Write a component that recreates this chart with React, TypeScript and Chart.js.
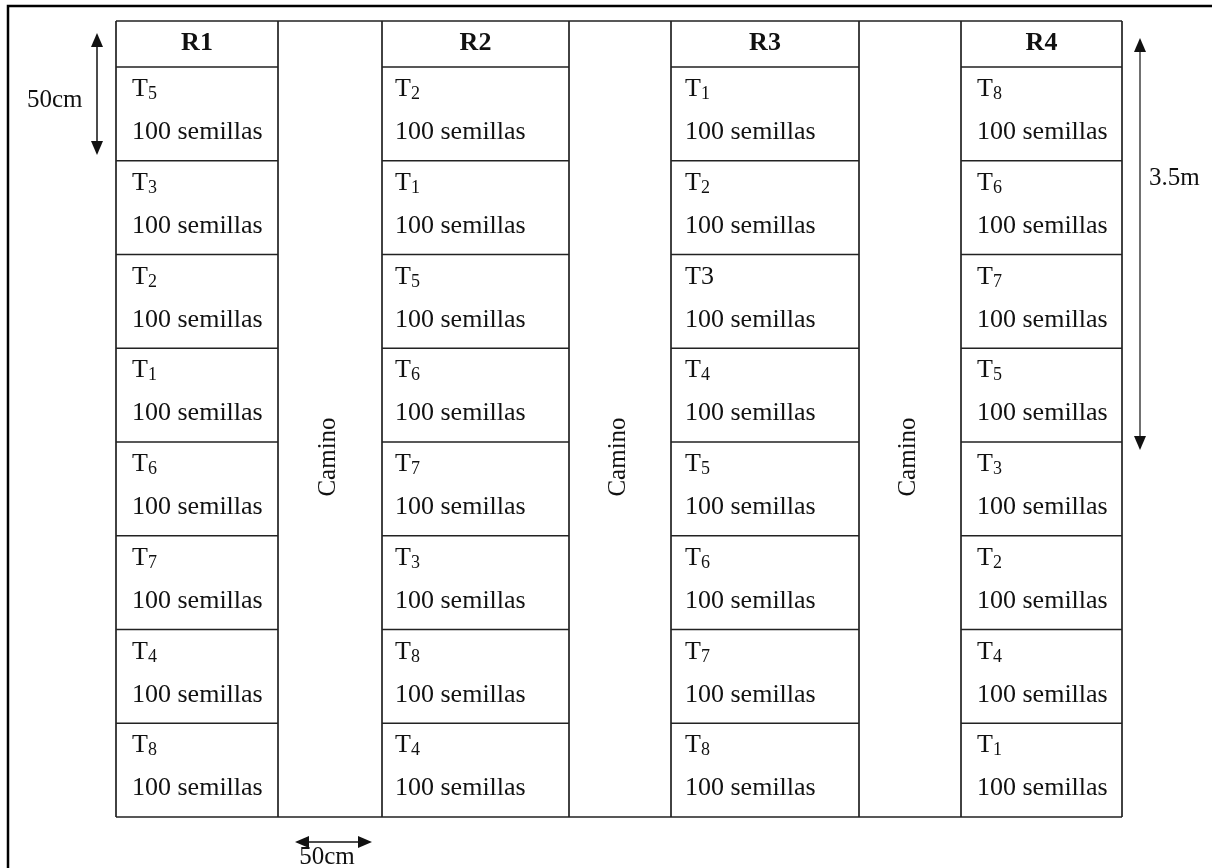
import React, { useEffect, useRef } from "react";
import { Chart, registerables } from "chart.js";

Chart.register(...registerables);

// ---- data ----
const blocks = ["R1", "R2", "R3", "R4"];
const r1Treatments = ["T_5", "T_3", "T_2", "T_1", "T_6", "T_7", "T_4", "T_8"];
const r2Treatments = ["T_2", "T_1", "T_5", "T_6", "T_7", "T_3", "T_8", "T_4"];
const r3Treatments = ["T_1", "T_2", "T3", "T_4", "T_5", "T_6", "T_7", "T_8"];
const r4Treatments = ["T_8", "T_6", "T_7", "T_5", "T_3", "T_2", "T_4", "T_1"];
const seedsLabel = "100 semillas";
const pathLabel = "Camino";
const rowDimLabel = "50cm";
const blockDimLabel = "3.5m";
const pathDimLabel = "50cm";

// ---- layout (scale units) ----
const blockEdges = [
  [116, 278],
  [382, 569],
  [671, 859],
  [961, 1122],
];
const textInset = [16, 13, 14, 16];
const headerTop = 21;
const rowsTop = 67;
const rowsBottom = 817;

const SERIF = '"Liberation Serif", "Times New Roman", serif';

function drawArrow(ctx: CanvasRenderingContext2D, x1: number, y1: number, x2: number, y2: number, lw: number) {
  const ang = Math.atan2(y2 - y1, x2 - x1);
  const hl = 14;
  const hw = 6;
  ctx.save();
  ctx.strokeStyle = "#111";
  ctx.fillStyle = "#111";
  ctx.lineWidth = lw;
  ctx.beginPath();
  ctx.moveTo(x1 + Math.cos(ang) * 4, y1 + Math.sin(ang) * 4);
  ctx.lineTo(x2 - Math.cos(ang) * 4, y2 - Math.sin(ang) * 4);
  ctx.stroke();
  const head = (tx: number, ty: number, a: number) => {
    ctx.beginPath();
    ctx.moveTo(tx, ty);
    ctx.lineTo(tx - Math.cos(a) * hl - Math.sin(a) * hw, ty - Math.sin(a) * hl + Math.cos(a) * hw);
    ctx.lineTo(tx - Math.cos(a) * hl + Math.sin(a) * hw, ty - Math.sin(a) * hl - Math.cos(a) * hw);
    ctx.closePath();
    ctx.fill();
  };
  head(x2, y2, ang);
  head(x1, y1, ang + Math.PI);
  ctx.restore();
}

const layoutPlugin = {
  id: "fieldLayout",
  afterDraw(chart: any) {
    const ctx: CanvasRenderingContext2D = chart.ctx;
    const xs = chart.scales.x;
    const ys = chart.scales.y;
    const X = (v: number) => xs.getPixelForValue(v);
    const Y = (v: number) => ys.getPixelForValue(v);
    const all = [r1Treatments, r2Treatments, r3Treatments, r4Treatments];
    const nRows = r1Treatments.length;
    const rowH = (rowsBottom - rowsTop) / nRows;

    ctx.save();
    // outer frame
    ctx.strokeStyle = "#000";
    ctx.lineWidth = 2.5;
    ctx.beginPath();
    ctx.moveTo(X(8), Y(880));
    ctx.lineTo(X(8), Y(6));
    ctx.lineTo(X(1220), Y(6));
    ctx.stroke();

    // grid lines of blocks
    ctx.strokeStyle = "#222";
    ctx.lineWidth = 1.7;
    const leftAll = blockEdges[0][0];
    const rightAll = blockEdges[blockEdges.length - 1][1];
    ctx.beginPath();
    ctx.moveTo(X(leftAll), Y(headerTop));
    ctx.lineTo(X(rightAll), Y(headerTop));
    ctx.moveTo(X(leftAll), Y(rowsBottom));
    ctx.lineTo(X(rightAll), Y(rowsBottom));
    blockEdges.forEach(([l, r]) => {
      ctx.moveTo(X(l), Y(headerTop));
      ctx.lineTo(X(l), Y(rowsBottom));
      ctx.moveTo(X(r), Y(headerTop));
      ctx.lineTo(X(r), Y(rowsBottom));
      for (let i = 0; i < nRows; i++) {
        const yy = rowsTop + rowH * i;
        ctx.moveTo(X(l), Y(yy));
        ctx.lineTo(X(r), Y(yy));
      }
    });
    ctx.stroke();

    // headers
    ctx.fillStyle = "#111";
    ctx.textAlign = "center";
    ctx.textBaseline = "alphabetic";
    ctx.font = `bold 26px ${SERIF}`;
    blocks.forEach((b, i) => {
      const [l, r] = blockEdges[i];
      ctx.fillText(b, X((l + r) / 2), Y(headerTop + 29));
    });

    // cells
    ctx.textAlign = "left";
    all.forEach((list, bi) => {
      const [l] = blockEdges[bi];
      list.forEach((lab, ri) => {
        const top = rowsTop + rowH * ri;
        const tx = X(l + textInset[bi]);
        const ty = Y(top + 29);
        ctx.font = `26px ${SERIF}`;
        if (lab.includes("_")) {
          const [main, sub] = lab.split("_");
          ctx.fillText(main, tx, ty);
          const w = ctx.measureText(main).width;
          ctx.font = `18px ${SERIF}`;
          ctx.fillText(sub, tx + w, ty + 3);
        } else {
          ctx.fillText(lab, tx, ty);
        }
        ctx.font = `26px ${SERIF}`;
        ctx.fillText(seedsLabel, tx, Y(top + 72));
      });
    });

    // camino labels
    ctx.font = `25px ${SERIF}`;
    ctx.textAlign = "center";
    ctx.textBaseline = "middle";
    for (let i = 0; i < blockEdges.length - 1; i++) {
      const cx = (blockEdges[i][1] + blockEdges[i + 1][0]) / 2;
      ctx.save();
      ctx.translate(X(cx - 2), Y(457));
      ctx.rotate(-Math.PI / 2);
      ctx.fillText(pathLabel, 0, 0);
      ctx.restore();
    }

    // dimension arrows
    drawArrow(ctx, X(97), Y(33), X(97), Y(155), 1.5);
    drawArrow(ctx, X(1140), Y(38), X(1140), Y(450), 1.2);
    drawArrow(ctx, X(295), Y(842), X(372), Y(842), 1.5);

    ctx.textBaseline = "alphabetic";
    ctx.textAlign = "left";
    ctx.font = `25px ${SERIF}`;
    ctx.fillText(rowDimLabel, X(27), Y(107));
    ctx.fillText(blockDimLabel, X(1149), Y(185));
    ctx.textAlign = "center";
    ctx.fillText(pathDimLabel, X(327), Y(864));
    ctx.restore();
  },
};

export default function App() {
  const ref = useRef<HTMLCanvasElement | null>(null);
  useEffect(() => {
    if (!ref.current) return;
    const chart = new Chart(ref.current, {
      type: "scatter",
      data: { datasets: [{ data: [] }] },
      options: {
        animation: false,
        responsive: false,
        devicePixelRatio: 1,
        layout: { padding: 0 },
        plugins: { legend: { display: false }, tooltip: { enabled: false } },
        scales: {
          x: { type: "linear", min: 0, max: 1212, display: false },
          y: { type: "linear", min: 0, max: 868, reverse: true, display: false },
        },
      },
      plugins: [layoutPlugin],
    });
    return () => chart.destroy();
  }, []);
  return (
    <div style={{ position: "absolute", left: 0, top: 0, width: 1212, height: 868, background: "#fff" }}>
      <canvas ref={ref} width={1212} height={868} />
    </div>
  );
}
